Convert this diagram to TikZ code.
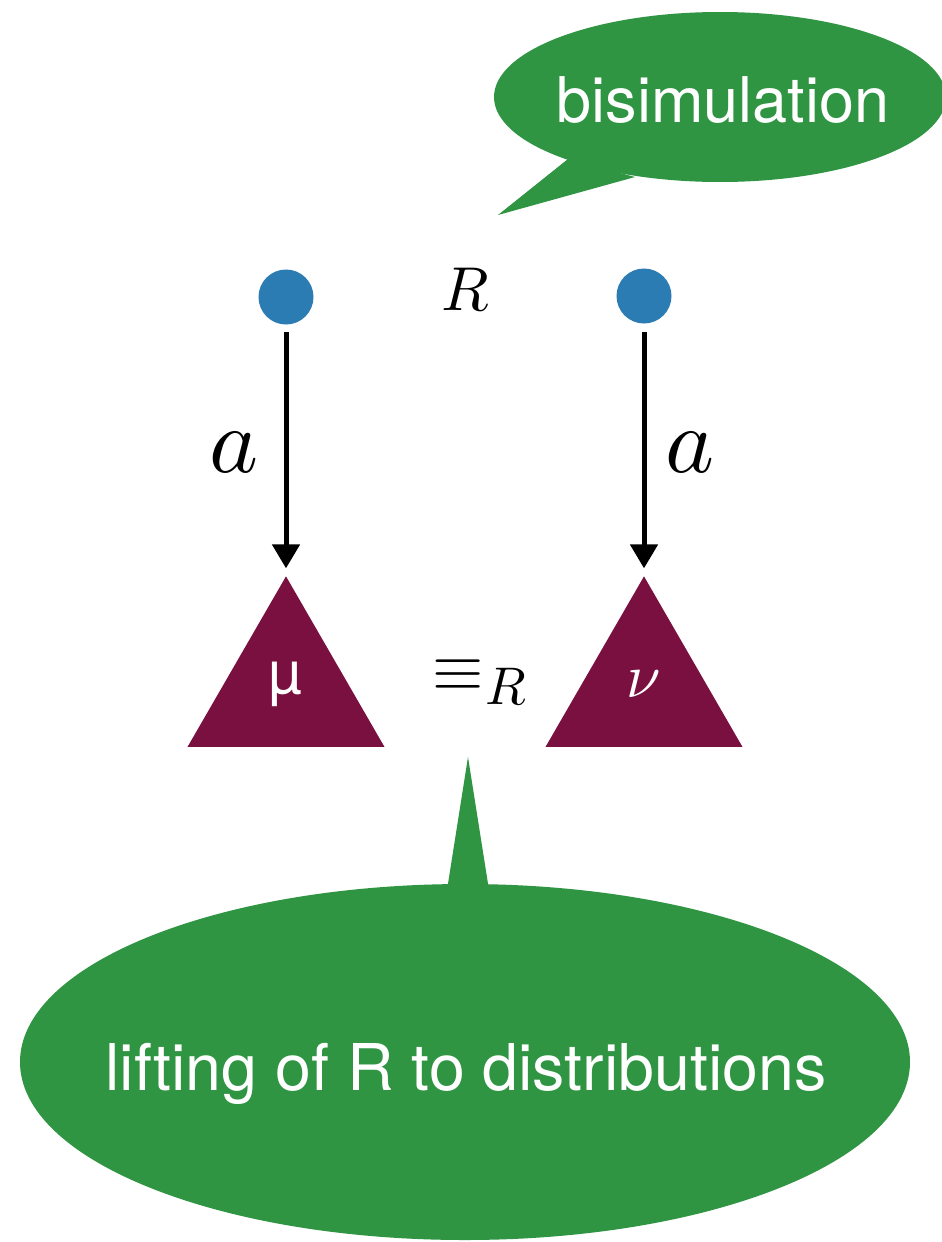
\documentclass[tikz,border=0pt]{standalone}
\usepackage{fontspec}
\setsansfont{TeX Gyre Heros}
\usetikzlibrary{arrows.meta,shapes.geometric}
\definecolor{bubgreen}{RGB}{47,149,66}
\definecolor{tripurple}{RGB}{122,16,64}
\definecolor{dotblue}{RGB}{44,124,180}
\newcommand{\bigmath}[2]{\scalebox{#1}{$#2$}}
\tikzset{
  dotnode/.style={circle,fill=dotblue,inner sep=0pt,outer sep=0pt,minimum size=55pt},
  trinode/.style={regular polygon,regular polygon sides=3,fill=tripurple,inner sep=0pt,outer sep=0pt,minimum size=227.5pt},
  bubble/.style={ellipse,fill=bubgreen,inner sep=0pt,outer sep=0pt},
  bubtext/.style={text=white,inner sep=0pt,font=\sffamily\fontsize{63}{63}\selectfont},
  arr/.style={line width=5pt,-{Triangle[width=27pt,length=24pt]}},
  mathlbl/.style={inner sep=0pt,text=black}
}
\begin{document}
\begin{tikzpicture}[x=1pt,y=-1pt]
\useasboundingbox (0,0) rectangle (942,1242);
\clip (0,0) rectangle (942,1242);
\fill[white] (0,0) rectangle (942,1242);

% top speech bubble
\node[bubble,minimum width=452pt,minimum height=170pt] (bub1) at (720,97) {};
\coordinate (tip1) at (498,215);
\fill[bubgreen] (568,159) -- (tip1) -- (635,177) -- cycle;
\node[bubtext,anchor=base] (bisim) at (723,122) {bisimulation};

% states
\node[dotnode] (s1) at (286,297) {};
\node[dotnode] (s2) at (644,296) {};
\node[mathlbl,anchor=base] (Rlbl) at (465,310) {\bigmath{6.2}{R}};

% distributions
\node[trinode] (t1) at (286,690.1) {};
\node[trinode] (t2) at (644,690.1) {};
\node[anchor=base,inner sep=0pt,text=white] (mu) at (285,693) {\sffamily\fontsize{60}{60}\selectfont µ};
\node[anchor=base,inner sep=0pt,text=white] (nu) at (644,697) {\bigmath{6.2}{\nu}};

% transitions
\draw[arr,shorten <=7.5pt,shorten >=8pt] (s1) -- (t1.corner 1);
\draw[arr,shorten <=8.5pt,shorten >=8pt] (s2) -- (t2.corner 1);
\node[mathlbl,anchor=base] (a1) at (234,472) {\bigmath{9.3}{a}};
\node[mathlbl,anchor=base] (a2) at (690,472) {\bigmath{9.3}{a}};

% lifted relation
\node[mathlbl,anchor=base west] (eqR) at (432,690) {\bigmath{6.6}{\equiv}\hspace{2pt}\raisebox{-14pt}{\bigmath{5.3}{R}}};

% bottom speech bubble
\node[bubble,minimum width=890pt,minimum height=356pt] (bub2) at (465,1062) {};
\coordinate (tip2) at (468,757);
\fill[bubgreen] (447,890) -- (tip2) -- (489,890) -- cycle;
\node[bubtext,anchor=base,font=\sffamily\fontsize{64.5}{64.5}\selectfont] (lift) at (466,1090) {lifting of R to distributions};
\end{tikzpicture}
\end{document}
